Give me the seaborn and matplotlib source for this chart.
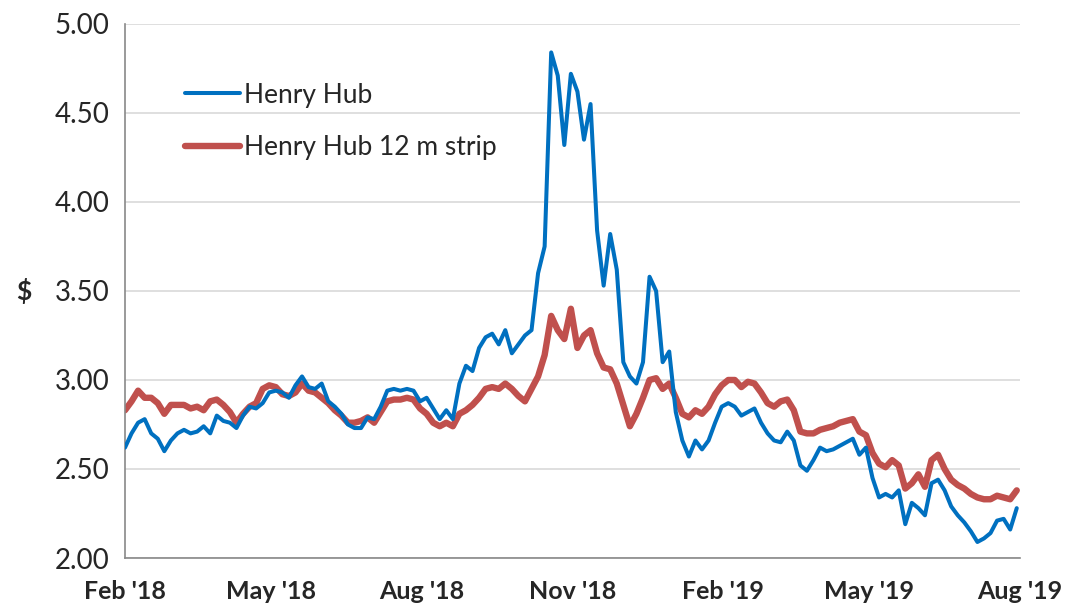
import seaborn as sns
import matplotlib.pyplot as plt
import matplotlib.dates as mdates
import matplotlib.ticker as mticker
import numpy as np
import pandas as pd

# dates every 4 days from Feb '18
dates = pd.date_range("2018-02-01", periods=137, freq="4D")

henry_hub = [
    2.62, 2.70, 2.76, 2.78, 2.70, 2.67, 2.60, 2.66, 2.70, 2.72,
    2.70, 2.71, 2.74, 2.70, 2.80, 2.77, 2.76, 2.73, 2.80, 2.85,
    2.84, 2.87, 2.93, 2.94, 2.93, 2.90, 2.97, 3.02, 2.96, 2.95,
    2.98, 2.88, 2.85, 2.81, 2.75, 2.73, 2.73, 2.79, 2.78, 2.85,
    2.94, 2.95, 2.94, 2.95, 2.94, 2.88, 2.90, 2.84, 2.78, 2.83,
    2.78, 2.98, 3.08, 3.05, 3.18, 3.24, 3.26, 3.20, 3.28, 3.15,
    3.20, 3.25, 3.28, 3.60, 3.75, 4.84, 4.71, 4.32, 4.72, 4.62,
    4.35, 4.55, 3.84, 3.53, 3.82, 3.62, 3.10, 3.02, 2.98, 3.10,
    3.58, 3.50, 3.10, 3.16, 2.82, 2.66, 2.57, 2.66, 2.61, 2.66,
    2.76, 2.85, 2.87, 2.85, 2.80, 2.82, 2.84, 2.76, 2.70, 2.66,
    2.65, 2.71, 2.66, 2.52, 2.49, 2.55, 2.62, 2.60, 2.61, 2.63,
    2.65, 2.67, 2.58, 2.62, 2.45, 2.34, 2.36, 2.34, 2.38, 2.19,
    2.31, 2.28, 2.24, 2.42, 2.44, 2.38, 2.29, 2.24, 2.20, 2.15,
    2.09, 2.11, 2.14, 2.21, 2.22, 2.16, 2.28,
]

strip_12m = [
    2.83, 2.88, 2.94, 2.90, 2.90, 2.87, 2.81, 2.86, 2.86, 2.86,
    2.84, 2.85, 2.83, 2.88, 2.89, 2.86, 2.82, 2.76, 2.81, 2.85,
    2.87, 2.95, 2.97, 2.96, 2.92, 2.91, 2.93, 2.98, 2.94, 2.93,
    2.90, 2.87, 2.83, 2.80, 2.76, 2.76, 2.77, 2.79, 2.76, 2.82,
    2.88, 2.89, 2.89, 2.90, 2.89, 2.84, 2.81, 2.76, 2.74, 2.76,
    2.74, 2.81, 2.83, 2.86, 2.90, 2.95, 2.96, 2.95, 2.98, 2.95,
    2.91, 2.88, 2.95, 3.02, 3.14, 3.36, 3.28, 3.23, 3.40, 3.18,
    3.25, 3.28, 3.15, 3.07, 3.06, 2.98, 2.86, 2.74, 2.81, 2.90,
    3.00, 3.01, 2.95, 2.98, 2.90, 2.81, 2.79, 2.83, 2.81, 2.85,
    2.92, 2.97, 3.00, 3.00, 2.96, 2.99, 2.98, 2.93, 2.87, 2.85,
    2.88, 2.89, 2.83, 2.71, 2.70, 2.70, 2.72, 2.73, 2.74, 2.76,
    2.77, 2.78, 2.71, 2.69, 2.59, 2.53, 2.51, 2.55, 2.52, 2.39,
    2.42, 2.47, 2.40, 2.55, 2.58, 2.50, 2.44, 2.41, 2.39, 2.36,
    2.34, 2.33, 2.33, 2.35, 2.34, 2.33, 2.38,
]

series_names = ["Henry Hub", "Henry Hub 12 m strip"]
tick_dates = pd.to_datetime(["2018-02-01", "2018-05-01", "2018-08-01",
                             "2018-11-01", "2019-02-01", "2019-05-01", "2019-08-01"])

df = pd.DataFrame({
    "date": list(dates) * 2,
    "price": henry_hub + strip_12m,
    "series": [series_names[0]] * len(dates) + [series_names[1]] * len(dates),
})

sns.set_style("white")
plt.rcParams["font.family"] = ["Lato", "DejaVu Sans"]

fig = plt.figure(figsize=(10.71, 6.14), dpi=100)
ax = fig.add_axes([0.1167, 0.0912, 0.8357, 0.8698])

sns.lineplot(data=df, x="date", y="price", hue="series", size="series",
             sizes={series_names[0]: 2.9, series_names[1]: 4.6},
             palette={series_names[0]: "#0070C0", series_names[1]: "#C0504D"},
             ax=ax, legend=True)
# blue on top of red
for line in ax.lines:
    if line.get_color() == "#0070C0":
        line.set_zorder(3)

ax.set_ylim(2.0, 5.0)
ax.set_xlim(tick_dates[0], tick_dates[-1])
ax.yaxis.set_major_locator(mticker.MultipleLocator(0.5))
ax.yaxis.set_major_formatter(mticker.FormatStrFormatter("%.2f"))
ax.set_xticks(tick_dates)
ax.xaxis.set_major_formatter(mdates.DateFormatter("%b '%y"))

ax.grid(axis="y", color="#d9d9d9", linewidth=1.2)
ax.set_axisbelow(True)
for side in ["top", "right"]:
    ax.spines[side].set_visible(False)
for side in ["left", "bottom"]:
    ax.spines[side].set_color("#898989")
    ax.spines[side].set_linewidth(1.2)

ax.tick_params(axis="y", length=8, width=1.2, color="#898989", labelsize=20, pad=3)
ax.tick_params(axis="x", length=8, width=1.2, color="#898989", labelsize=18, pad=8)
for lab in ax.get_xticklabels():
    lab.set_fontweight("bold")

ax.set_xlabel("")
ax.set_ylabel("$", fontsize=19, fontweight="bold", rotation=0, labelpad=22, va="center")

handles, labels = ax.get_legend_handles_labels()
ax.legend(handles, labels, loc="upper left", bbox_to_anchor=(0.067, 0.89),
          frameon=False, fontsize=19, handlelength=2.1, handletextpad=0.12,
          labelspacing=1.05, borderpad=0, borderaxespad=0)

fig.savefig("out.png", dpi=100)
